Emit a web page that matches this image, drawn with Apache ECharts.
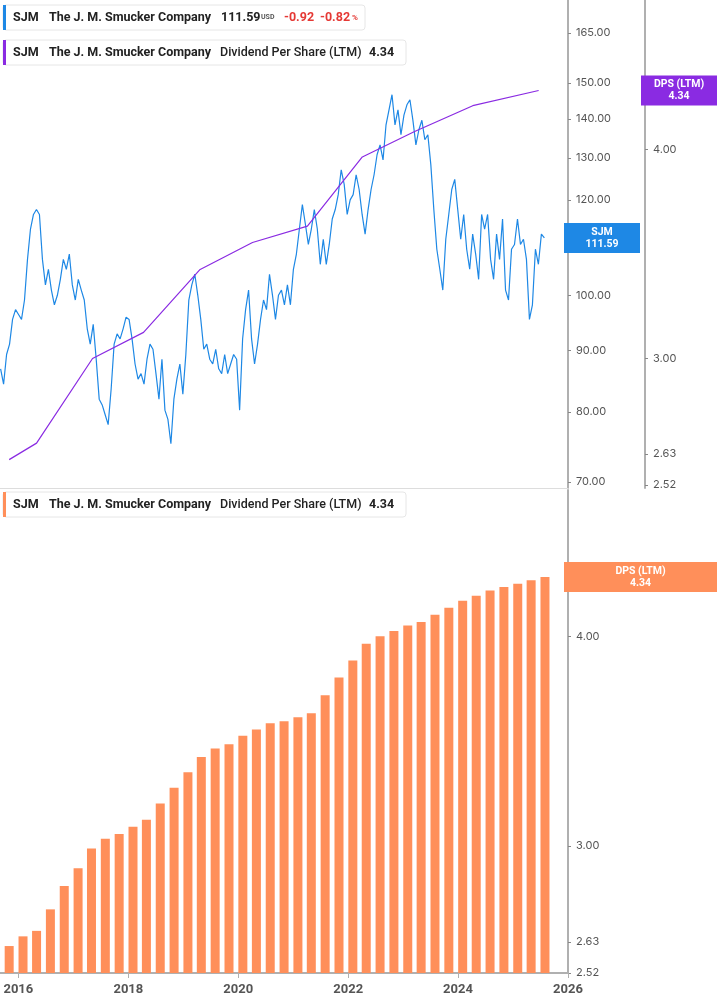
<!DOCTYPE html>
<html><head><meta charset="utf-8">
<script src="https://cdn.jsdelivr.net/npm/echarts@6/dist/echarts.min.js"></script>
<style>html,body{margin:0;padding:0;background:#fff}#c{width:717px;height:1005px}</style>
</head><body><div id="c"></div>
<script>
const priceStart = '2015-09-05', priceEnd = '2025-07-28';
const priceValues = [86.9,84.4,89.3,91.1,95.5,97.3,96.4,95.5,99.1,107.1,113.5,116.7,117.8,116.7,107.1,102.0,105.1,101.0,98.2,100,103.1,107.1,105.1,108.2,102.0,99.1,103.1,101.0,99.1,93.8,91.1,94.6,88.5,82.0,81.1,79.6,78.1,83.6,91.1,92.9,92.0,93.8,95.9,95.5,92.0,87.7,85.2,86.1,84.4,88.5,91.1,90.2,86.1,82.0,88.5,80.3,78.9,75.3,82.0,85.2,87.7,82.8,89.3,99.1,102.0,104.1,100,95.5,90.2,91.1,88.5,87.7,90.2,86.9,86.1,89.3,86.1,87.7,89.3,88.5,80.3,92.0,97.3,101.0,92.0,87.7,91.1,95.5,99.1,97.3,104.1,100,95.5,100,101.0,98.2,102.0,98.2,105.1,108.2,113.5,118.9,114.6,110.2,113.5,117.8,113.5,106.1,111.3,106.1,110.2,115.7,117.8,121.2,127.1,123.6,116.7,120,121.2,125.9,122.4,116.7,112.4,117.8,122.4,125.9,130.8,133.3,129.5,138.5,142.5,146.7,138.5,142.5,135.9,141.1,143.9,145.3,139.7,133.3,137.2,139.7,134.6,135.9,128.3,117.8,109.2,105.1,101.0,111.3,116.7,122.4,124.8,117.8,111.3,116.7,109.2,105.1,112.4,108.2,103.1,116.7,113.5,116.7,107.1,103.1,112.4,107.1,115.7,101.0,99.1,109.2,110.2,115.7,110.2,111.3,107.1,95.5,98.2,109.2,106.1,112.4,111.59];
const dpsLineDates = ['2015-11-01','2016-05-01','2017-05-08','2018-04-12','2019-04-20','2020-04-05','2021-04-05','2022-04-05','2023-03-15','2024-04-08','2025-06-20'];
const dpsLineValues = [2.61,2.67,3.00,3.11,3.39,3.52,3.60,3.96,4.10,4.25,4.34];
const dpsBarValues = [2.615,2.65,2.67,2.75,2.84,2.91,2.99,3.03,3.05,3.08,3.11,3.18,3.25,3.32,3.39,3.43,3.45,3.49,3.52,3.55,3.56,3.58,3.60,3.69,3.78,3.87,3.96,4.00,4.03,4.06,4.08,4.12,4.16,4.20,4.23,4.26,4.28,4.30,4.32,4.34];
const dpsBarStart = [2015, 10];
const priceTicks = [70,80,90,100,110,120,130,140,150,165];
const dpsTicks = [2.52,2.63,3.00,4.00];
const yearTicks = ['2016','2018','2020','2022','2024','2026'];

const t0 = Date.parse(priceStart), t1 = Date.parse(priceEnd);
const priceData = priceValues.map((v,i)=>[t0 + (t1-t0)*i/(priceValues.length-1), v]);
const dpsLine = dpsLineDates.map((d,i)=>[Date.parse(d), dpsLineValues[i]]);
const barData = dpsBarValues.map((v,i)=>[Date.UTC(dpsBarStart[0], dpsBarStart[1]+3*i, 1), v]);
const yearMs = yearTicks.map(y=>Date.UTC(+y,0,1));

const gray='#555', axisC='#b0b0b0';
const font='Inter, "Noto Sans", sans-serif';
const lfont='Roboto, "Noto Sans", sans-serif';
const xMin=Date.parse('2015-09-01'), xMax=Date.UTC(2026,0,1);
const chart = echarts.init(document.getElementById('c'));
chart.setOption({
  animation:false,
  grid:[{left:0,right:149,top:0,height:488},{left:0,right:149,top:490,height:483}],
  xAxis:[
    {type:'value',gridIndex:0,min:xMin,max:xMax,axisLabel:{show:false},axisTick:{show:false},splitLine:{show:false},axisLine:{lineStyle:{color:'#ddd'}}},
    {type:'value',gridIndex:1,min:xMin,max:xMax,splitLine:{show:false},
     axisLine:{lineStyle:{color:axisC,width:2}},axisTick:{show:true,length:5,lineStyle:{color:axisC},customValues:yearMs},
     axisLabel:{color:gray,fontSize:13,fontWeight:'bold',fontFamily:lfont,margin:10,customValues:yearMs,formatter:v=>String(new Date(v).getUTCFullYear())}}
  ],
  yAxis:[
    {type:'log',gridIndex:0,position:'right',min:69.2,max:175.8,splitLine:{show:false},
     axisLine:{show:true,lineStyle:{color:axisC,width:2}},axisTick:{show:true,length:3,lineStyle:{color:'#888'},customValues:priceTicks},
     axisLabel:{color:gray,fontSize:11,fontFamily:font,margin:8,customValues:priceTicks,formatter:v=>(+v).toFixed(2)}},
    {type:'log',gridIndex:0,position:'right',offset:77,min:2.51,max:4.916,splitLine:{show:false},
     axisLine:{show:true,lineStyle:{color:axisC,width:2}},axisTick:{show:true,length:3,lineStyle:{color:'#888'},customValues:dpsTicks},
     axisLabel:{color:gray,fontSize:11,fontFamily:font,margin:8,customValues:dpsTicks,formatter:v=>(+v).toFixed(2)}},
    {type:'log',gridIndex:1,position:'right',min:2.52,max:4.89,splitLine:{show:false},
     axisLine:{show:true,lineStyle:{color:axisC,width:2}},axisTick:{show:true,length:3,lineStyle:{color:'#888'},customValues:dpsTicks},
     axisLabel:{color:gray,fontSize:11,fontFamily:font,margin:8,customValues:dpsTicks,formatter:v=>(+v).toFixed(2)}}
  ],
  series:[
    {type:'line',xAxisIndex:0,yAxisIndex:0,data:priceData,showSymbol:false,lineStyle:{color:'#1e88e5',width:1.2}},
    {type:'line',xAxisIndex:0,yAxisIndex:1,data:dpsLine,showSymbol:false,lineStyle:{color:'#8a2be2',width:1.2}},
    {type:'bar',xAxisIndex:1,yAxisIndex:2,data:barData,barWidth:9,itemStyle:{color:'#ff8f5a'}}
  ]
});

function legend(y,w,stripe,parts){
  const els=[{type:'rect',z:100,shape:{x:3,y:y,width:w,height:25,r:3},style:{fill:'#fff',stroke:'#e6e6e6',lineWidth:1}},
    {type:'rect',z:101,shape:{x:3,y:y,width:3,height:25},style:{fill:stripe}}];
  parts.forEach(p=>els.push({type:'text',z:102,x:p[0],y:y+12.5,style:{text:p[1],fill:p[2]||'#222',font:(p[3]||'bold 12.5px ')+lfont,verticalAlign:'middle'}}));
  return els;
}
const els=[].concat(
  legend(5,362,'#1e88e5',[[13,'SJM'],[49,'The J. M. Smucker Company'],[221,'111.59'],[261,'USD','#555','bold 7px '],[284,'-0.92','#e53935'],[320,'-0.82','#e53935'],[352,'%','#e53935','bold 8px ']]),
  legend(40,403,'#8a2be2',[[13,'SJM'],[49,'The J. M. Smucker Company'],[220,'Dividend Per Share (LTM)','#222','500 12.5px '],[369,'4.34']]),
  legend(492,403,'#ff8f5a',[[13,'SJM'],[49,'The J. M. Smucker Company'],[220,'Dividend Per Share (LTM)','#222','500 12.5px '],[369,'4.34']])
);
const pPrice=chart.convertToPixel({yAxisIndex:0},111.59);
const pDps=chart.convertToPixel({yAxisIndex:1},4.34);
const pBar=chart.convertToPixel({yAxisIndex:2},4.34);
function tag(x,w,cy,fill,l1,l2){
  return [{type:'rect',z:100,shape:{x:x,y:cy-15,width:w,height:30},style:{fill:fill}},
    {type:'text',z:101,x:x+w/2,y:cy-6,style:{text:l1,fill:'#fff',font:'bold 10.5px '+lfont,align:'center',verticalAlign:'middle'}},
    {type:'text',z:101,x:x+w/2,y:cy+6,style:{text:l2,fill:'#fff',font:'bold 10.5px '+lfont,align:'center',verticalAlign:'middle'}}];
}
els.push(...tag(564,76,pPrice,'#1e88e5','SJM','111.59'));
els.push(...tag(641,76,pDps,'#8a2be2','DPS (LTM)','4.34'));
els.push(...tag(564,153,pBar,'#ff8f5a','DPS (LTM)','4.34'));
chart.setOption({graphic:{elements:els}});
</script></body></html>
